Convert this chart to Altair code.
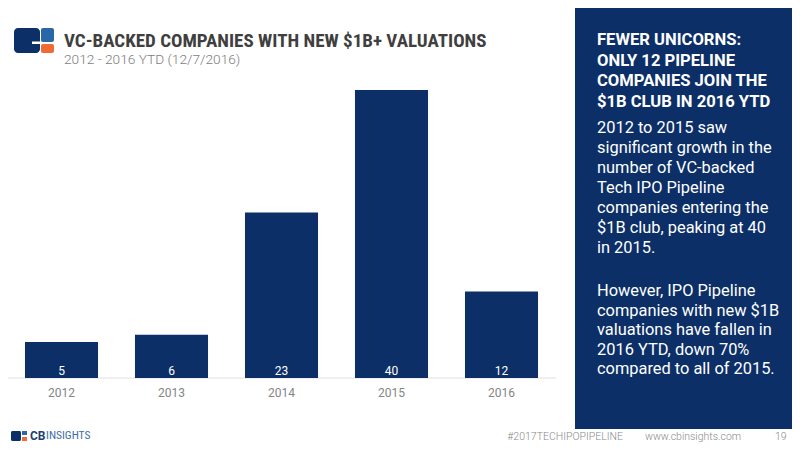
import altair as alt
import pandas as pd

# ---- data ----
years = ["2012", "2013", "2014", "2015", "2016"]
counts = [5, 6, 23, 40, 12]

title = "VC-BACKED COMPANIES WITH NEW $1B+ VALUATIONS"
subtitle = "2012 - 2016 YTD (12/7/2016)"
heading = ["FEWER UNICORNS:", "ONLY 12 PIPELINE", "COMPANIES JOIN THE", "$1B CLUB IN 2016 YTD"]
para1 = ["2012 to 2015 saw", "significant growth in the", "number of VC-backed",
         "Tech IPO Pipeline", "companies entering the", "$1B club, peaking at 40", "in 2015."]
para2 = ["However, IPO Pipeline", "companies with new $1B", "valuations have fallen in",
         "2016 YTD, down 70%", "compared to all of 2015."]
footer_tag = "#2017TECHIPOPIPELINE"
footer_url = "www.cbinsights.com"
footer_page = "19"

NAVY = "#0b2f66"
PANEL = "#0c2f68"
COND = "Roboto Condensed, Noto Sans Condensed, DejaVu Sans Condensed, Liberation Sans Narrow, Roboto"

df = pd.DataFrame({"year": years, "count": counts})

xscale = alt.Scale(domain=years, range=[-1.5, 548.5], paddingInner=0.336, paddingOuter=0.168)
yscale = alt.Scale(domain=[0, 40], range=[370, 82])


def txt(s, x, y, **kw):
    opts = dict(align="left", baseline="alphabetic")
    opts.update(kw)
    return alt.Chart(alt.Data(values=[{"k": 1}])).mark_text(text=s, **opts).encode(
        x=alt.value(x), y=alt.value(y))


def box(x, x2, y, y2, color, **kw):
    return alt.Chart(alt.Data(values=[{"k": 1}])).mark_rect(color=color, **kw).encode(
        x=alt.value(x), x2=alt.value(x2), y=alt.value(y), y2=alt.value(y2))


layers = []

# right panel
layers.append(box(567, 790, -8, 421, PANEL))

# logo
layers.append(box(6, 32, 20, 45, NAVY, cornerRadius=4))
layers.append(box(24, 32, 33.5, 36, "white"))
layers.append(box(33, 46, 20, 34, "#2a67a6", cornerRadius=2))
layers.append(box(33, 46, 36, 45, "#ef6a35", cornerRadius=2))

# title & subtitle
layers.append(txt(title, 56, 38.5, font=COND, fontWeight="bold", fontSize=19, color="#3f3f3f"))
layers.append(txt(subtitle, 56, 56, font="Roboto", fontWeight=300, fontSize=13.7, color="#7d7d7d"))

# baseline
layers.append(alt.Chart(df).transform_calculate(base="0").transform_filter(
    alt.datum.year == years[0]).mark_rule(color="#e0e0e0", strokeWidth=1).encode(
    x=alt.value(-2), x2=alt.value(548), y=alt.Y("base:Q", scale=yscale, axis=None)))

# bars
layers.append(alt.Chart(df).mark_bar(color=NAVY).encode(
    x=alt.X("year:N", scale=xscale, axis=None),
    y=alt.Y("count:Q", scale=yscale, axis=None)))

# value labels
layers.append(alt.Chart(df).transform_calculate(base="0").mark_text(
    color="white", font="Roboto", fontSize=12, baseline="alphabetic", dy=-3).encode(
    x=alt.X("year:N", scale=xscale, axis=None),
    y=alt.Y("base:Q", scale=yscale, axis=None),
    text="count:Q"))

# year labels
layers.append(alt.Chart(df).mark_text(color="#858585", font="Roboto", fontSize=12,
                                      baseline="middle").encode(
    x=alt.X("year:N", scale=xscale, axis=None),
    y=alt.value(385),
    text="year:N"))

# panel text
layers.append(txt(heading, 589, 37, font="Roboto", fontWeight="bold", fontSize=16.6,
                  lineHeight=20.7, color="white"))
layers.append(txt(para1, 589, 125, font="Roboto", fontSize=16.4, lineHeight=20, color="white"))
layers.append(txt(para2, 589, 288, font="Roboto", fontSize=16.4, lineHeight=19.6, color="white"))

# footer
layers.append(box(3, 13, 423, 433, NAVY, cornerRadius=1.5))
layers.append(box(14, 19, 423, 427, "#2a67a6"))
layers.append(box(14, 19, 429, 433, "#ef6a35"))
layers.append(txt("CB", 22, 428, font="Roboto", fontWeight="bold", fontSize=12,
                  color="#1d3f73", baseline="middle"))
layers.append(txt("INSIGHTS", 38, 428, font=COND, fontSize=11.5, color="#3e6ea6",
                  baseline="middle"))
layers.append(txt(footer_tag, 615, 429, font="Roboto", fontWeight=300, fontSize=10.5,
                  color="#8a8a8a", baseline="middle", align="right"))
layers.append(txt(footer_url, 637, 429, font="Roboto", fontWeight=300, fontSize=10.5,
                  color="#8a8a8a", baseline="middle"))
layers.append(txt(footer_page, 767, 429, font="Roboto", fontWeight=300, fontSize=10.5,
                  color="#8a8a8a", baseline="middle"))

chart = alt.layer(*layers).properties(
    width=784, height=434, padding=0, autosize="none", background="white"
).configure_view(strokeWidth=0)

chart.save("out.html", embed_options={"renderer": "svg", "actions": False})
